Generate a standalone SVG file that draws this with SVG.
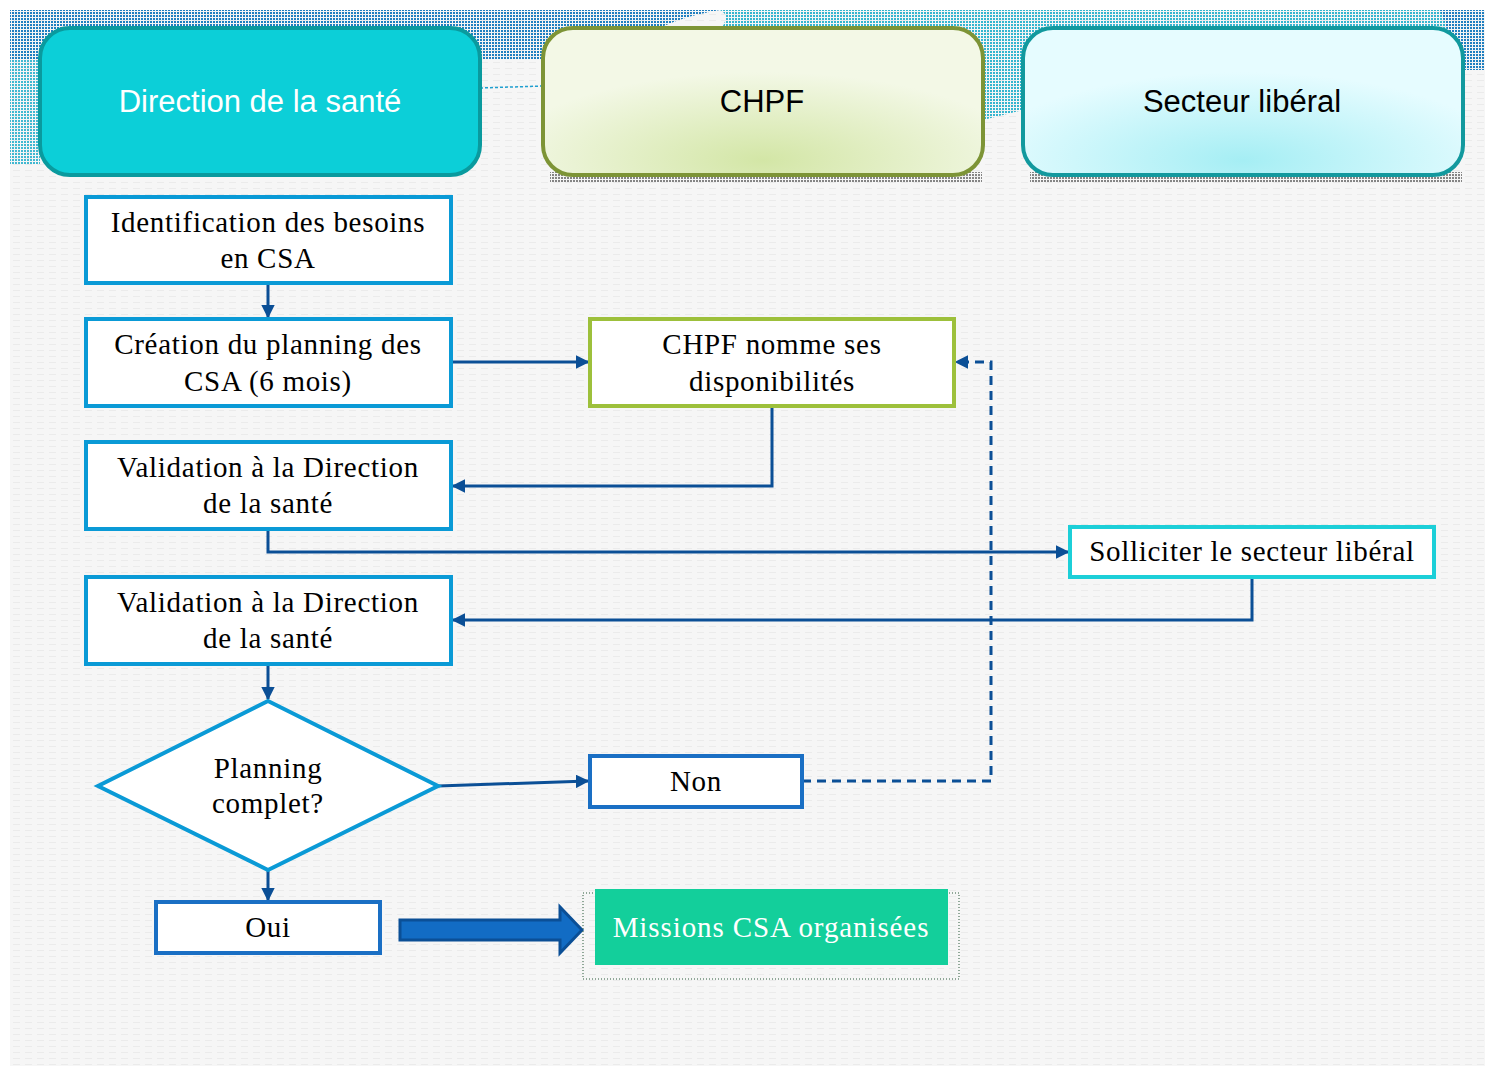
<svg xmlns="http://www.w3.org/2000/svg" width="1485" height="1066" viewBox="0 0 1485 1066">
<style>
.hdr{font-family:"Liberation Sans",Arial,sans-serif;font-size:31px;text-anchor:middle}
.t{font-family:"Liberation Serif","Times New Roman",serif;font-size:29px;letter-spacing:0.7px;text-anchor:middle;fill:#000}
.box{fill:#fff;stroke:#0a9ad6;stroke-width:4}
.box2{fill:#fff;stroke:#1a6fc4;stroke-width:4}
.c{fill:none;stroke:#0b4f96;stroke-width:3}
.d{fill:none;stroke:#0b4f96;stroke-width:3;stroke-dasharray:9 6}
</style>
<defs>
<pattern id="dotB" width="3" height="3" patternUnits="userSpaceOnUse"><rect width="2" height="2" fill="#1f7fc0"/></pattern>
<pattern id="dotC" width="3" height="3" patternUnits="userSpaceOnUse"><rect width="2" height="2" fill="#12a9c8"/></pattern>
<pattern id="dotS" width="3" height="3" patternUnits="userSpaceOnUse"><rect width="2" height="2" fill="#555"/></pattern>
<pattern id="bgp" width="12" height="6" patternUnits="userSpaceOnUse"><rect width="12" height="6" fill="#f6f6f6"/><rect x="1" y="2" width="7" height="1" fill="#ebebeb"/></pattern>
<radialGradient id="gG" cx="0.5" cy="0.9" r="0.6"><stop offset="0" stop-color="#d3e6a6"/><stop offset="1" stop-color="#f3f8e6"/></radialGradient>
<radialGradient id="gC" cx="0.5" cy="0.9" r="0.6"><stop offset="0" stop-color="#a5eef4"/><stop offset="1" stop-color="#e6fcff"/></radialGradient>
<marker id="ah" viewBox="0 0 10 10" refX="9" refY="5" markerWidth="4.5" markerHeight="4.5" orient="auto-start-reverse"><path d="M0,0 L10,5 L0,10 Z" fill="#0b4f96"/></marker>
</defs>
<rect x="0" y="0" width="1485" height="1066" fill="#fff"/>
<rect x="10" y="10" width="1475" height="1056" fill="url(#bgp)"/>
<g id="band">
<path d="M10,10 L720,10 C660,20 640,40 600,60 L10,60 Z" fill="url(#dotB)"/>
<path d="M10,60 L40,60 L40,165 L10,165 Z" fill="url(#dotC)" opacity="0.8"/>
<path d="M720,10 L1485,10 L1485,70 L1463,70 L1463,60 L980,60 L983,120 L1023,110 L1023,60 L720,60 C700,40 740,20 720,10 Z" fill="url(#dotC)" opacity="0.85"/>
<path d="M1440,10 L1485,10 L1485,70 L1463,70 Z" fill="url(#dotB)"/>
<path d="M480,88 L543,86" stroke="#1f9fd0" stroke-width="1.5" stroke-dasharray="3 2"/>
</g>
<g id="shadows">
<rect x="550" y="172" width="432" height="10" fill="url(#dotS)" opacity="0.7"/>
<rect x="1030" y="172" width="432" height="10" fill="url(#dotS)" opacity="0.7"/>
</g>
<g id="h1"><rect x="40" y="28" width="440" height="147" rx="30" fill="#0ccfd8" stroke="#0a9a9e" stroke-width="4"/><text class="hdr" x="260" y="112" fill="#fff">Direction de la santé</text></g>
<g id="h2"><rect x="543" y="28" width="440" height="147" rx="30" fill="url(#gG)" stroke="#7d9436" stroke-width="4"/><text class="hdr" x="762" y="112" fill="#000">CHPF</text></g>
<g id="h3"><rect x="1023" y="28" width="440" height="147" rx="30" fill="url(#gC)" stroke="#12999e" stroke-width="4"/><text class="hdr" x="1242" y="112" fill="#000">Secteur libéral</text></g>
<g id="connectors">
<path class="c" d="M268,283 L268,317" marker-end="url(#ah)"/>
<path class="c" d="M451,362 L588,362" marker-end="url(#ah)"/>
<path class="c" d="M772,406 L772,486 L453,486" marker-end="url(#ah)"/>
<path class="c" d="M268,529 L268,552 L1068,552" marker-end="url(#ah)"/>
<path class="c" d="M1252,577 L1252,620 L453,620" marker-end="url(#ah)"/>
<path class="c" d="M268,664 L268,699" marker-end="url(#ah)"/>
<path class="c" d="M438,786 L588,781" marker-end="url(#ah)"/>
<path class="d" d="M802,781 L991,781 L991,362 L956,362" marker-end="url(#ah)"/>
<path class="c" d="M268,870 L268,900" marker-end="url(#ah)"/>
<path d="M400,920 L560,920 L560,907 L582,930 L560,953 L560,940 L400,940 Z" fill="#126cc4" stroke="#0b4f96" stroke-width="3"/>
</g>
<g id="n1"><rect class="box" x="86" y="197" width="365" height="86"/><text class="t" x="268" y="232">Identification des besoins</text><text class="t" x="268" y="268">en CSA</text></g>
<g id="n2"><rect class="box" x="86" y="319" width="365" height="87"/><text class="t" x="268" y="354">Création du planning des</text><text class="t" x="268" y="391">CSA (6 mois)</text></g>
<g id="n3"><rect x="590" y="319" width="364" height="87" fill="#fff" stroke="#9dc03b" stroke-width="4"/><text class="t" x="772" y="354">CHPF nomme ses</text><text class="t" x="772" y="391">disponibilités</text></g>
<g id="n4"><rect class="box" x="86" y="442" width="365" height="87"/><text class="t" x="268" y="477">Validation à la Direction</text><text class="t" x="268" y="513">de la santé</text></g>
<g id="n5"><rect x="1070" y="527" width="364" height="50" fill="#fff" stroke="#1ccfd8" stroke-width="4"/><text class="t" x="1252" y="561">Solliciter le secteur libéral</text></g>
<g id="n6"><rect class="box" x="86" y="577" width="365" height="87"/><text class="t" x="268" y="612">Validation à la Direction</text><text class="t" x="268" y="648">de la santé</text></g>
<g id="n7"><path d="M268,701 L438,786 L268,870 L98,786 Z" fill="#fff" stroke="#0a9ad6" stroke-width="4"/><text class="t" x="268" y="778">Planning</text><text class="t" x="268" y="813">complet?</text></g>
<g id="n8"><rect class="box2" x="590" y="756" width="212" height="51"/><text class="t" x="696" y="791">Non</text></g>
<g id="n9"><rect class="box2" x="156" y="902" width="224" height="51"/><text class="t" x="268" y="937">Oui</text></g>
<g id="n10"><rect x="583" y="893" width="376" height="86" fill="none" stroke="#2a5a3a" stroke-width="1" stroke-dasharray="1 2"/><rect x="595" y="889" width="353" height="76" fill="#13cf9b"/><text class="t" x="771" y="937" style="fill:#fff;font-size:29px;letter-spacing:0.9px">Missions CSA organisées</text></g>
</svg>
